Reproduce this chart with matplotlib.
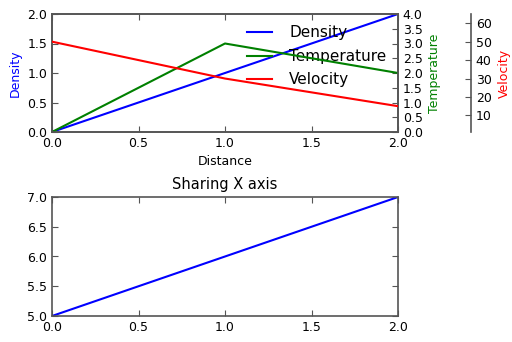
import matplotlib
matplotlib.use("Agg")
import matplotlib.pyplot as plt

distance = [0, 1, 2]
density = [0, 1, 2]
temperature = [0, 3, 2]
velocity = [50, 30, 15]
share_y = [5, 6, 7]

plt.rcParams["font.size"] = 9
plt.rcParams["xtick.direction"] = "in"
plt.rcParams["ytick.direction"] = "in"
plt.rcParams["axes.edgecolor"] = "#555555"
plt.rcParams["axes.linewidth"] = 1.2
plt.rcParams["xtick.color"] = "#555555"
plt.rcParams["ytick.color"] = "#555555"
plt.rcParams["xtick.labelcolor"] = "black"
plt.rcParams["ytick.labelcolor"] = "black"
plt.rcParams["xtick.major.size"] = 4
plt.rcParams["ytick.major.size"] = 4

fig = plt.figure(figsize=(5.12, 3.42), dpi=100)

host = fig.add_axes([52 / 512, 1 - 132 / 342, 346 / 512, 118 / 342])
par1 = host.twinx()
par2 = host.twinx()
# offset of the velocity spine, in points (73 px at 100 dpi)
par2.spines["right"].set_position(("outward", 73 * 0.72))
for s in ["top", "bottom", "left"]:
    par2.spines[s].set_visible(False)

p1, = host.plot(distance, density, color="blue", label="Density")
p2, = par1.plot(distance, temperature, color="green", label="Temperature")
p3, = par2.plot(distance, velocity, color="red", label="Velocity")

host.set_xlim(0, 2)
host.set_ylim(0, 2)
par1.set_ylim(0, 4)
par2.set_ylim(1, 65)

host.set_xticks([0, 0.5, 1.0, 1.5, 2.0])
host.set_yticks([0, 0.5, 1.0, 1.5, 2.0])
par1.set_yticks([0, 0.5, 1, 1.5, 2, 2.5, 3, 3.5, 4])
par2.set_yticks([10, 20, 30, 40, 50, 60])
host.tick_params(top=True, right=False)

host.set_xlabel("Distance")
host.set_ylabel("Density", color="blue")
par1.set_ylabel("Temperature", color="green")
par2.set_ylabel("Velocity", color="red")

host.legend(handles=[p1, p2, p3], loc="upper right", frameon=False,
            fontsize=11, handlelength=1.7, handletextpad=1.1,
            borderaxespad=0.35, labelspacing=0.55)

ax2 = fig.add_axes([52 / 512, 1 - 316 / 342, 346 / 512, 119 / 342])
ax2.plot(distance, share_y, color="blue")
ax2.set_xlim(0, 2)
ax2.set_ylim(5, 7)
ax2.set_xticks([0, 0.5, 1.0, 1.5, 2.0])
ax2.set_yticks([5, 5.5, 6, 6.5, 7])
ax2.tick_params(top=True, right=True)
ax2.set_title("Sharing X axis", fontsize=10.5)

fig.savefig("out.png")
